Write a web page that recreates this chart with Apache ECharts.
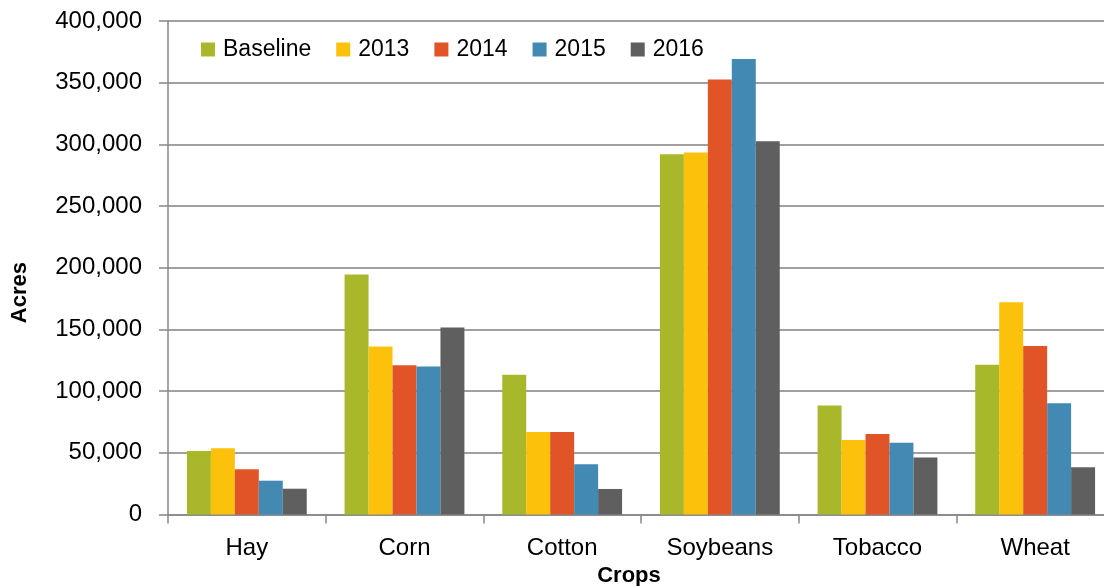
<!DOCTYPE html>
<html>
<head>
<meta charset="utf-8">
<script src="https://cdn.jsdelivr.net/npm/echarts@6/dist/echarts.min.js"></script>
<style>html,body{margin:0;padding:0;background:#fff}#c{width:1104px;height:586px}</style>
</head>
<body>
<div id="c"></div>
<script>
const categories = ['Hay', 'Corn', 'Cotton', 'Soybeans', 'Tobacco', 'Wheat'];
const seriesNames = ['Baseline', '2013', '2014', '2015', '2016'];
const baseline = [51500, 194600, 113200, 292000, 88400, 121400];
const y2013 = [53600, 136200, 66800, 293400, 60300, 172100];
const y2014 = [36600, 120900, 66800, 352500, 65200, 136500];
const y2015 = [27400, 120000, 40700, 369200, 58200, 90100];
const y2016 = [20900, 151600, 20700, 302500, 46300, 38200];
const yTicks = [0, 50000, 100000, 150000, 200000, 250000, 300000, 350000, 400000];
const colors = ['#A8B82A', '#FCC10A', '#E05427', '#428AB3', '#5F5F5F'];
const seriesData = [baseline, y2013, y2014, y2015, y2016];

const FONT = 'Liberation Sans';
const chart = echarts.init(document.getElementById('c'), null, {renderer: 'canvas'});
chart.setOption({
  animation: false,
  textStyle: {fontFamily: FONT},
  grid: {left: 168, top: 21, width: 946, bottom: 71.5, containLabel: false, outerBoundsMode: 'none'},
  legend: {
    left: 196, top: 33,
    itemWidth: 14, itemHeight: 14, itemGap: 25,
    icon: 'rect',
    data: seriesNames,
    textStyle: {fontFamily: FONT, fontSize: 23, color: '#000', padding: [0, 0, 0, 3]}
  },
  xAxis: {
    type: 'category',
    data: categories,
    axisLine: {lineStyle: {color: '#868686', width: 1.5}},
    axisTick: {show: true, length: 9, inside: false, alignWithLabel: false, lineStyle: {color: '#868686', width: 1.5}},
    axisLabel: {fontFamily: FONT, fontSize: 24, color: '#000', margin: 22},
    name: 'Crops',
    nameLocation: 'middle',
    nameGap: 45,
    nameTextStyle: {fontFamily: FONT, fontSize: 22, fontWeight: 'bold', color: '#000', padding: [0, 24, 0, 0]}
  },
  yAxis: {
    type: 'value',
    min: yTicks[0], max: yTicks[yTicks.length - 1], interval: 50000,
    axisLine: {show: true, lineStyle: {color: '#868686', width: 1.5}},
    axisTick: {show: true, length: 9, lineStyle: {color: '#868686', width: 1.5}},
    splitLine: {show: true, lineStyle: {color: '#808080', width: 1.5}},
    axisLabel: {
      fontFamily: FONT, fontSize: 24, color: '#000', margin: 26,
      formatter: v => v.toLocaleString('en-US')
    }
  },
  graphic: [{
    type: 'text',
    left: 9, top: 262,
    rotation: Math.PI / 2,
    style: {text: 'Acres', font: 'bold 22px "' + FONT + '"', fill: '#000'}
  }],
  series: seriesNames.map((n, i) => ({
    name: n,
    type: 'bar',
    data: seriesData[i],
    barGap: '0%',
    barCategoryGap: '24%',
    itemStyle: {color: colors[i]}
  }))
});
</script>
</body>
</html>
